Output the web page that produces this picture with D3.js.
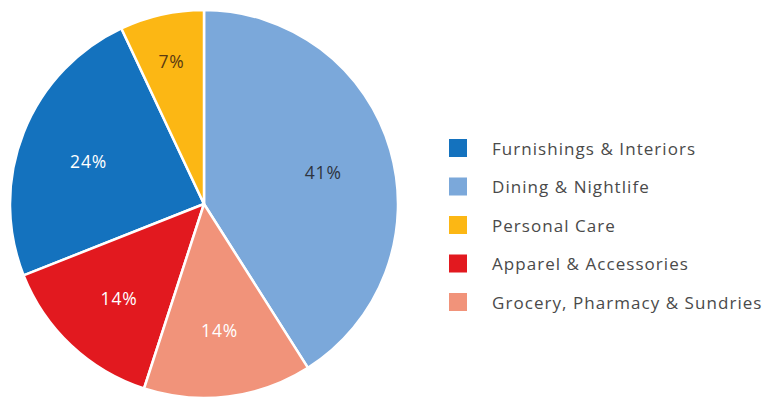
<!DOCTYPE html>
<html>
<head>
<meta charset="utf-8">
<script src="https://cdn.jsdelivr.net/npm/d3@7/dist/d3.min.js"></script>
<style>
  html, body { margin: 0; padding: 0; background: #ffffff; }
  svg { display: block; }
  text { font-family: "Open Sans", "Noto Sans", sans-serif; }
</style>
</head>
<body>
<svg id="chart" width="769" height="398"></svg>
<script>
// Share of tenants by category (legend order)
const categories = [
  "Furnishings & Interiors",
  "Dining & Nightlife",
  "Personal Care",
  "Apparel & Accessories",
  "Grocery, Pharmacy & Sundries"
];
const values = [24, 41, 7, 14, 14];
const colors = ["#1472be", "#7ba8da", "#fcb714", "#e2191f", "#f1937a"];
const labelColors = ["#ffffff", "#2e3440", "#5a3a12", "#ffffff", "#ffffff"];
// Order in which slices run clockwise from 12 o'clock
const sliceOrder = [
  "Dining & Nightlife",
  "Grocery, Pharmacy & Sundries",
  "Apparel & Accessories",
  "Furnishings & Interiors",
  "Personal Care"
];

const data = categories.map((c, i) => ({
  name: c, value: values[i], color: colors[i], labelColor: labelColors[i]
}));

const svg = d3.select("#chart");
const cx = 204, cy = 204, r = 194;

const pie = d3.pie()
  .value(d => d.value)
  .sort((a, b) => sliceOrder.indexOf(a.name) - sliceOrder.indexOf(b.name));

const arc = d3.arc().innerRadius(0).outerRadius(r);

const g = svg.append("g").attr("transform", `translate(${cx},${cy})`);
const arcs = pie(data);

g.selectAll("path.slice")
  .data(arcs)
  .join("path")
  .attr("class", "slice")
  .attr("d", arc)
  .attr("fill", d => d.data.color)
  .attr("stroke", "#ffffff")
  .attr("stroke-width", 2.5)
  .attr("stroke-linejoin", "round");

// Percentage labels; narrow slices get their label pushed outward
g.selectAll("text.pct")
  .data(arcs)
  .join("text")
  .attr("class", "pct")
  .attr("transform", d => {
    const k = d.data.value < 10 ? 0.77 : 0.64;
    const la = d3.arc().innerRadius(r * k).outerRadius(r * k);
    const [x, y] = la.centroid(d);
    return `translate(${x},${y + 3})`;
  })
  .attr("text-anchor", "middle")
  .attr("dominant-baseline", "central")
  .attr("font-size", 17.5)
  .attr("letter-spacing", 0.8)
  .attr("fill", d => d.data.labelColor)
  .text(d => d.data.value + "%");

// Legend
const legend = svg.append("g").attr("transform", "translate(449,148)");
const rowH = 38.5;
const rows = legend.selectAll("g.row")
  .data(data)
  .join("g")
  .attr("class", "row")
  .attr("transform", (d, i) => `translate(0,${i * rowH})`);

rows.append("rect")
  .attr("x", 0).attr("y", -9)
  .attr("width", 18).attr("height", 18)
  .attr("fill", d => d.color);

rows.append("text")
  .attr("x", 43)
  .attr("y", 0)
  .attr("dominant-baseline", "central")
  .attr("font-size", 17)
  .attr("letter-spacing", 1.05)
  .attr("fill", "#4a4a4a")
  .text(d => d.name);
</script>
</body>
</html>
